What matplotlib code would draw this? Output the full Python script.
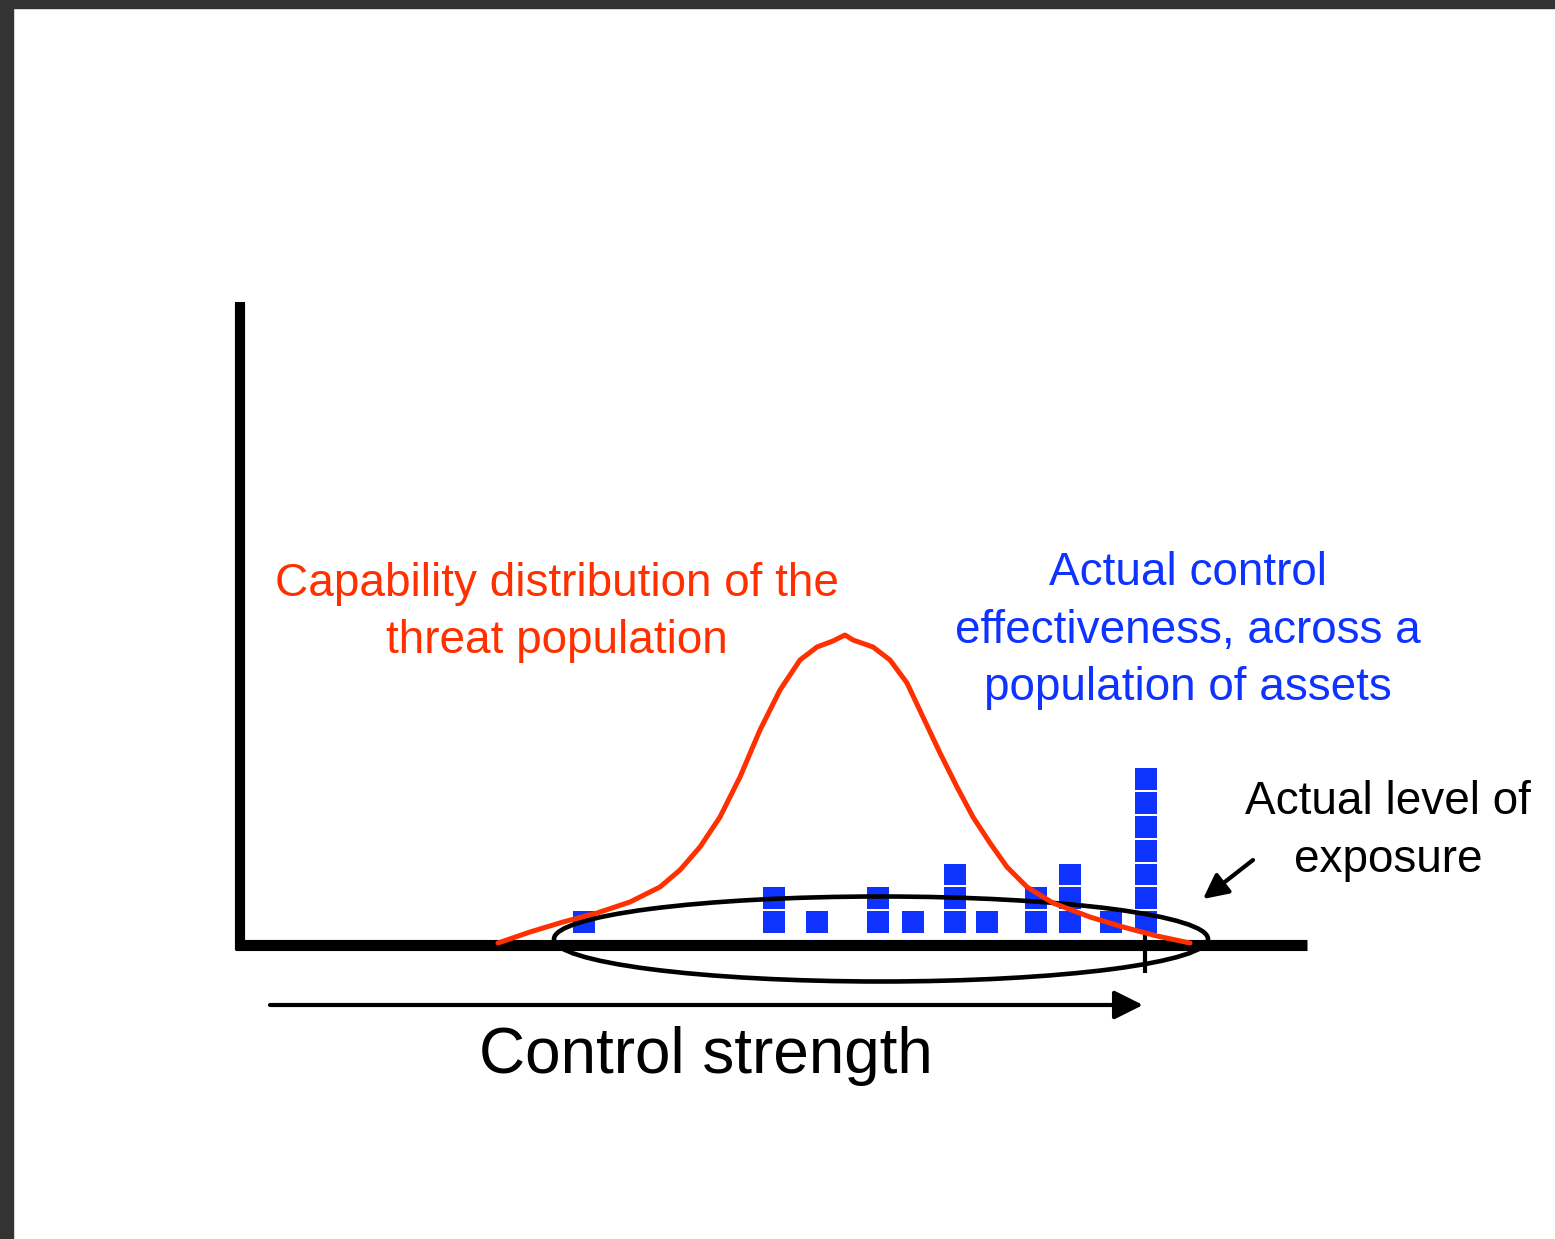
import matplotlib.pyplot as plt
from matplotlib.patches import Ellipse, Rectangle

# canvas units: x = control strength, y = screen rows (pixel-like, downwards)
W, H = 1555, 1239

# asset population: stacked squares per control-strength position
asset_x = [584, 774, 817, 878, 913, 955, 987, 1036, 1070, 1111, 1146]
asset_count = [1, 2, 1, 2, 1, 3, 1, 2, 3, 1, 7]

# threat capability curve
curve_x = [498, 530, 563, 597, 630, 660, 680, 700, 720, 740, 760, 780, 800, 817,
           833, 845, 853, 873, 890, 907, 923, 940, 957, 973, 990, 1007, 1027,
           1053, 1090, 1123, 1157, 1190]
curve_y = [943, 932, 922, 913, 902, 887, 870, 847, 817, 777, 730, 690, 660, 647,
           641, 635, 640, 647, 660, 683, 717, 753, 787, 817, 843, 867, 887,
           903, 917, 927, 936, 943]

RED = '#ff3000'
BLUE = '#0f33ff'
FONT = 'Liberation Sans'

BASE = 933      # bottom of the squares
PITCH = 23.8
GAP = 2.0
SQ_W = 22

fig = plt.figure(figsize=(W / 100, H / 100), dpi=100)
ax = fig.add_axes([0, 0, 1, 1])
ax.set_xlim(0, W)
ax.set_ylim(H, 0)
ax.axis('off')

# dark frame of the screenshot
ax.add_patch(Rectangle((0, 0), W, 8, color='#333333', zorder=0))
ax.add_patch(Rectangle((0, 0), 13, H, color='#333333', zorder=0))

# axes lines
ax.plot([240, 240], [302, 950], color='black', lw=7.3, solid_capstyle='butt', zorder=2)
ax.plot([235, 1307], [944.5, 944.5], color='black', lw=8, solid_capstyle='butt', zorder=2)

# stacked asset squares
for x, n in zip(asset_x, asset_count):
    for k in range(n):
        ax.bar(x, PITCH - GAP, width=SQ_W, bottom=BASE - (k + 1) * PITCH + GAP,
               color=BLUE, zorder=3)

# exposure ellipse
ax.add_patch(Ellipse((881, 939), 654, 85, fill=False, edgecolor='black', lw=3.3, zorder=4))

# tick for actual exposure level
ax.plot([1145, 1145], [932, 973], color='black', lw=3, solid_capstyle='butt', zorder=4)

# threat capability curve
ax.plot(curve_x, curve_y, color=RED, lw=3.6, solid_joinstyle='round',
        solid_capstyle='round', zorder=5)

# control strength arrow
ax.annotate('', xy=(1143, 1005), xytext=(270, 1005),
            arrowprops=dict(arrowstyle='-|>,head_length=0.7,head_width=0.35',
                            mutation_scale=25, lw=3, color='black',
                            shrinkA=0, shrinkB=0))
# pointer to exposure
ax.annotate('', xy=(1203, 899), xytext=(1253, 860),
            arrowprops=dict(arrowstyle='-|>,head_length=0.6,head_width=0.3',
                            mutation_scale=25, lw=3, color='black',
                            shrinkA=0, shrinkB=0))

# multi-line texts are anchored on the baseline of their last line
ax.text(557, 653, 'Capability distribution of the\nthreat population', color=RED,
        fontsize=33, family=FONT, ha='center', va='baseline', linespacing=1.39)
ax.text(1188, 700, 'Actual control\neffectiveness, across a\npopulation of assets',
        color=BLUE, fontsize=33, family=FONT, ha='center', va='baseline',
        linespacing=1.39)
ax.text(1388, 872, 'Actual level of\nexposure', color='black', fontsize=33,
        family=FONT, ha='center', va='baseline', linespacing=1.42)
ax.text(706, 1073, 'Control strength', color='black', fontsize=46, family=FONT,
        ha='center', va='baseline')

fig.savefig('out.png', dpi=100, facecolor='white')
